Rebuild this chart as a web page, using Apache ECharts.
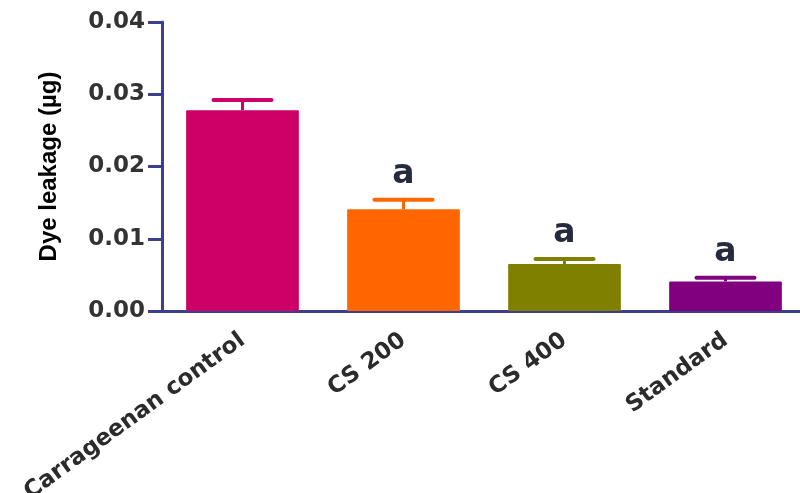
<!DOCTYPE html>
<html>
<head>
<meta charset="utf-8">
<script src="https://cdn.jsdelivr.net/npm/echarts@6/dist/echarts.min.js"></script>
<style>html,body{margin:0;padding:0;background:#fff}#c{width:800px;height:493px}</style>
</head>
<body>
<div id="c"></div>
<script>
const categories = ["Carrageenan control", "CS 200", "CS 400", "Standard"];
const means = [0.0278, 0.0141, 0.0065, 0.0041];
const errors = [0.0014, 0.0013, 0.0007, 0.0005];
const sigLabels = ["", "a", "a", "a"];
const colors = ["#CC0066", "#FF6600", "#808000", "#800080"];
const yTicks = [0, 0.01, 0.02, 0.03, 0.04];

const axisColor = "#3C3F8E";
const chart = echarts.init(document.getElementById('c'), null, {renderer: 'canvas'});
chart.setOption({
  animation: false,
  grid: {left: 162, top: 22, bottom: 182, width: 644, containLabel: false, outerBoundsMode: 'none'},
  xAxis: {
    type: 'category',
    data: categories,
    axisLine: {lineStyle: {color: axisColor, width: 3}},
    axisTick: {alignWithLabel: true, length: 9, lineStyle: {color: axisColor, width: 3}},
    axisLabel: {rotate: 36, margin: 27, interval: 0, color: '#2b2b2b', fontFamily: 'DejaVu Sans', fontWeight: 'bold', fontSize: 23}
  },
  yAxis: {
    type: 'value',
    min: yTicks[0], max: yTicks[yTicks.length - 1], interval: 0.01,
    name: 'Dye leakage (µg)',
    nameLocation: 'middle',
    nameGap: 101,
    nameTextStyle: {color: '#000', fontFamily: 'Liberation Sans, Arial', fontWeight: 'bold', fontSize: 24},
    splitLine: {show: false},
    axisLine: {show: true, lineStyle: {color: axisColor, width: 3}},
    axisTick: {show: true, length: 14, lineStyle: {color: axisColor, width: 3}},
    axisLabel: {margin: 17, color: '#333', fontFamily: 'DejaVu Sans', fontWeight: 'bold', fontSize: 23,
      formatter: v => v.toFixed(2)}
  },
  series: [
    {
      type: 'bar',
      data: means.map((v, i) => ({value: v, itemStyle: {color: colors[i]}})),
      barCategoryGap: '30%',
      itemStyle: {borderRadius: 1}
    },
    {
      type: 'custom',
      data: means.map((v, i) => [i, v, v + errors[i]]),
      renderItem: function (params, api) {
        const i = api.value(0);
        const top = api.coord([i, api.value(2)]);
        const base = api.coord([i, api.value(1)]);
        const capHalf = 29;
        const c = colors[i];
        const children = [
          {type: 'line', shape: {x1: base[0], y1: base[1], x2: top[0], y2: top[1]}, style: {stroke: c, lineWidth: 3}},
          {type: 'line', shape: {x1: top[0] - capHalf, y1: top[1], x2: top[0] + capHalf, y2: top[1]}, style: {stroke: c, lineWidth: 4, lineCap: 'round'}}
        ];
        if (sigLabels[i]) {
          children.push({type: 'text', style: {text: sigLabels[i], x: top[0], y: top[1] - 9, align: 'center', verticalAlign: 'bottom',
            fill: '#262a3f', font: 'bold 33px "DejaVu Sans"'}});
        }
        return {type: 'group', children: children};
      },
      z: 3
    }
  ]
});
</script>
</body>
</html>
